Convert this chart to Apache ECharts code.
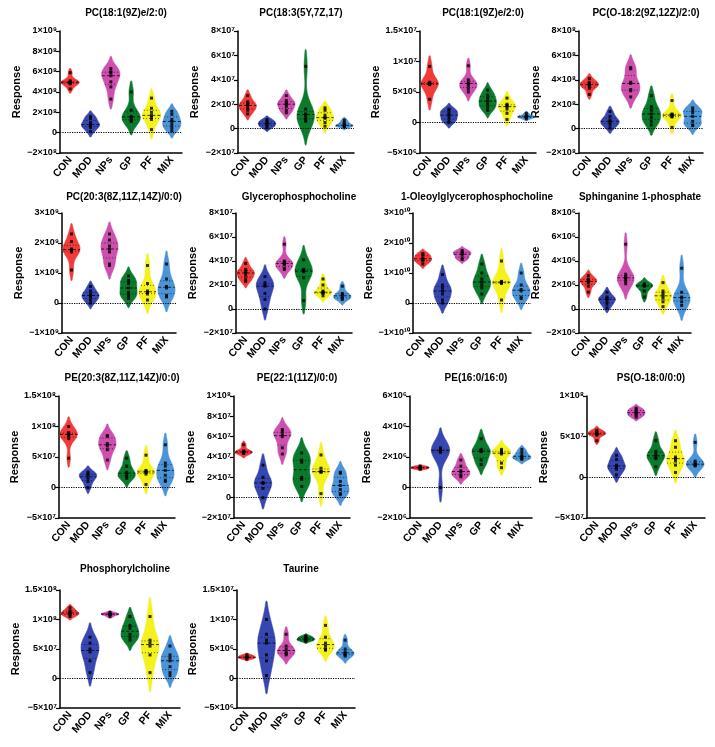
<!DOCTYPE html>
<html>
<head>
<meta charset="utf-8">
<script src="https://cdn.jsdelivr.net/npm/echarts@6/dist/echarts.min.js"></script>
<style>
html,body{margin:0;padding:0;background:#fff;}
#container{width:715px;height:747px;}
</style>
</head>
<body>
<div id="container"></div>
<script>
var groups = ['CON', 'MOD', 'NPs', 'GP', 'PF', 'MIX'];
var colors = ['#f23a3a', '#3747b2', '#cf4fae', '#0a7a2c', '#f4f11c', '#4b94d8'];

var titles = ['PC(18:1(9Z)e/2:0)', 'PC(18:3(5Y,7Z,17)', 'PC(18:1(9Z)e/2:0)', 'PC(O-18:2(9Z,12Z)/2:0)',
    'PC(20:3(8Z,11Z,14Z)/0:0)', 'Glycerophosphocholine', '1-Oleoylglycerophosphocholine', 'Sphinganine 1-phosphate',
    'PE(20:3(8Z,11Z,14Z)/0:0)', 'PE(22:1(11Z)/0:0)', 'PE(16:0/16:0)', 'PS(O-18:0/0:0)',
    'Phosphorylcholine', 'Taurine'];

// y axis ranges (min, max, step) per panel
var yMin  = [-2e8, -2e7, -5e6, -2e8, -1e9, -2e7, -1e10, -2e6, -5e7, -2e7, -2e6, -5e7, -5e7, -5e6];
var yMax  = [1e9, 8e7, 1.5e7, 8e8, 3e9, 8e7, 3e10, 8e6, 1.5e8, 1e8, 6e6, 1e8, 1.5e8, 1.5e7];
var yStep = [2e8, 2e7, 5e6, 2e8, 1e9, 2e7, 1e10, 2e6, 5e7, 2e7, 2e6, 5e7, 5e7, 5e6];

// values per group: CON, MOD, NPs, GP, PF, MIX
var pc181e = [
    [5.9e8, 5.1e8, 5.0e8, 4.95e8, 4.9e8, 4.8e8, 4.3e8],
    [1.6e8, 1.4e8, 1.0e8, 0.8e8, 0.7e8, 0.5e8, 0.1e8],
    [6.3e8, 6.0e8, 5.9e8, 5.6e8, 5.0e8, 4.5e8, 3.3e8],
    [4.0e8, 2.2e8, 1.6e8, 1.5e8, 1.2e8, 1.1e8],
    [3.4e8, 2.4e8, 2.0e8, 1.7e8, 1.5e8, 1.3e8, 0.3e8],
    [2.1e8, 1.8e8, 1.3e8, 1.1e8, 0.8e8, 0.5e8, 0.2e8]
];
var pc183 = [
    [2.7e7, 2.2e7, 2.0e7, 1.9e7, 1.7e7, 1.5e7, 1.2e7],
    [0.75e7, 0.6e7, 0.45e7, 0.35e7, 0.2e7, 0.05e7],
    [2.7e7, 2.3e7, 2.1e7, 2.0e7, 1.8e7, 1.5e7, 1.3e7],
    [5.1e7, 1.6e7, 1.2e7, 1.15e7, 0.9e7, 0.7e7, 0.6e7],
    [1.7e7, 1.5e7, 1.1e7, 0.9e7, 0.85e7, 0.5e7, 0.2e7],
    [0.7e7, 0.5e7, 0.3e7, 0.25e7, 0.2e7, 0.15e7]
];
var pc181e2 = [
    [9.2e6, 6.6e6, 6.4e6, 6.3e6, 6.2e6, 3.8e6],
    [2.2e6, 2.0e6, 1.5e6, 1.2e6, 0.8e6, 0.3e6, 0],
    [9.3e6, 7.0e6, 6.5e6, 6.4e6, 6.0e6, 5.5e6, 5.0e6],
    [5.3e6, 4.5e6, 4.0e6, 3.5e6, 3.0e6, 2.5e6, 2.0e6],
    [4.0e6, 3.0e6, 2.8e6, 2.6e6, 2.2e6, 1.5e6, 0.5e6],
    [1.5e6, 1.1e6, 1.0e6, 0.9e6, 0.8e6, 0.6e6]
];
var pco182 = [
    [4.1e8, 3.8e8, 3.7e8, 3.6e8, 3.5e8, 3.3e8, 2.8e8],
    [1.4e8, 1.0e8, 0.7e8, 0.6e8, 0.5e8, 0.3e8, 0.05e8],
    [5.0e8, 4.9e8, 3.8e8, 3.7e8, 3.2e8, 3.1e8, 2.6e8],
    [2.7e8, 1.8e8, 1.5e8, 1.2e8, 0.9e8, 0.6e8, 0.3e8],
    [2.3e8, 1.2e8, 1.15e8, 1.1e8, 1.0e8, 0.95e8, 0.1e8],
    [1.7e8, 1.5e8, 1.3e8, 1.0e8, 0.6e8, 0.3e8, 0.25e8]
];
var pc203 = [
    [2.3e9, 2.05e9, 1.8e9, 1.78e9, 1.75e9, 1.7e9, 1.1e9],
    [0.55e9, 0.4e9, 0.3e9, 0.25e9, 0.2e9, 0.1e9, 0],
    [2.3e9, 2.1e9, 1.9e9, 1.8e9, 1.7e9, 1.3e9, 1.25e9],
    [0.9e9, 0.75e9, 0.65e9, 0.5e9, 0.35e9, 0.25e9, 0.15e9],
    [1.25e9, 0.65e9, 0.4e9, 0.35e9, 0.3e9, 0.1e9],
    [1.3e9, 0.8e9, 0.55e9, 0.5e9, 0.25e9, 0.2e9]
];
var gpc = [
    [3.8e7, 3.3e7, 3.1e7, 3.0e7, 2.8e7, 2.5e7, 2.3e7],
    [2.7e7, 2.2e7, 2.0e7, 1.9e7, 1.3e7, 0.8e7, 0],
    [5.4e7, 4.0e7, 3.9e7, 3.8e7, 3.7e7, 3.4e7, 3.3e7],
    [4.1e7, 3.3e7, 3.2e7, 3.1e7, 2.6e7, 0.7e7],
    [2.5e7, 2.0e7, 1.5e7, 1.4e7, 1.35e7, 1.3e7, 1.1e7],
    [1.9e7, 1.3e7, 1.2e7, 1.0e7, 0.9e7, 0.8e7]
];
var oleoyl = [
    [1.65e10, 1.6e10, 1.5e10, 1.45e10, 1.4e10, 1.3e10],
    [0.95e10, 0.6e10, 0.5e10, 0.4e10, 0.3e10, 0.1e10, 0],
    [1.75e10, 1.7e10, 1.65e10, 1.6e10, 1.5e10, 1.45e10],
    [1.3e10, 1.0e10, 0.8e10, 0.7e10, 0.6e10, 0.5e10, 0.3e10],
    [1.4e10, 0.72e10, 0.7e10, 0.68e10, 0.65e10, 0.1e10],
    [1.0e10, 0.6e10, 0.45e10, 0.4e10, 0.2e10, 0.15e10]
];
var sphinganine = [
    [2.8e6, 2.5e6, 2.4e6, 2.3e6, 2.2e6, 1.9e6, 1.4e6],
    [1.4e6, 1.0e6, 0.9e6, 0.8e6, 0.6e6, 0.4e6, 0.1e6],
    [5.4e6, 2.9e6, 2.7e6, 2.6e6, 2.5e6, 2.3e6, 2.1e6],
    [2.1e6, 2.0e6, 1.95e6, 1.9e6, 1.5e6, 1.0e6],
    [2.2e6, 1.5e6, 1.3e6, 1.1e6, 0.9e6, 0.6e6, 0.2e6],
    [3.4e6, 1.4e6, 1.0e6, 0.9e6, 0.6e6, 0.3e6]
];
var pe203 = [
    [1.0e8, 0.9e8, 0.88e8, 0.87e8, 0.85e8, 0.8e8, 0.48e8],
    [0.25e8, 0.22e8, 0.2e8, 0.15e8, 0.1e8, 0],
    [0.85e8, 0.84e8, 0.72e8, 0.68e8, 0.62e8, 0.45e8],
    [0.48e8, 0.35e8, 0.25e8, 0.22e8, 0.18e8, 0.15e8],
    [0.53e8, 0.28e8, 0.26e8, 0.25e8, 0.22e8, 0.05e8],
    [0.7e8, 0.4e8, 0.35e8, 0.28e8, 0.2e8, 0.12e8, 0.1e8]
];
var pe221 = [
    [5.2e7, 4.6e7, 4.5e7, 4.4e7, 4.35e7],
    [3.2e7, 2.0e7, 1.5e7, 1.4e7, 0.9e7, 0],
    [6.7e7, 6.5e7, 6.2e7, 6.0e7, 4.9e7, 4.3e7],
    [4.4e7, 3.7e7, 3.5e7, 2.0e7, 1.8e7, 1.1e7],
    [4.2e7, 2.9e7, 2.6e7, 2.55e7, 2.5e7, 0.4e7],
    [2.5e7, 2.4e7, 1.6e7, 1.2e7, 0.8e7, 0.4e7, 0.3e7]
];
var pe160 = [
    [1.4e6, 1.35e6, 1.3e6, 1.25e6, 1.2e6],
    [2.6e6, 2.5e6, 2.45e6, 2.4e6, 2.3e6, 0],
    [1.8e6, 1.4e6, 1.1e6, 1.0e6, 0.8e6, 0.7e6],
    [3.2e6, 2.5e6, 2.4e6, 2.35e6, 1.8e6, 1.5e6],
    [2.5e6, 2.4e6, 2.3e6, 2.2e6, 1.6e6, 1.3e6],
    [2.5e6, 2.3e6, 2.1e6, 2.0e6, 1.9e6, 1.85e6]
];
var pso180 = [
    [5.8e7, 5.6e7, 5.4e7, 5.3e7, 5.2e7, 4.5e7],
    [2.7e7, 2.2e7, 1.5e7, 1.3e7, 1.0e7, 0.3e7],
    [8.5e7, 8.3e7, 8.0e7, 7.9e7, 7.6e7, 7.4e7],
    [4.5e7, 3.2e7, 2.8e7, 2.5e7, 2.3e7, 1.3e7],
    [4.5e7, 3.7e7, 2.5e7, 2.3e7, 2.0e7, 1.5e7, 0.6e7],
    [4.3e7, 2.0e7, 1.7e7, 1.55e7, 1.5e7, 1.4e7]
];
var phosphorylcholine = [
    [1.2e8, 1.15e8, 1.12e8, 1.1e8, 1.08e8, 1.05e8],
    [0.7e8, 0.6e8, 0.5e8, 0.45e8, 0.3e8, 0.1e8],
    [1.12e8, 1.1e8, 1.09e8, 1.08e8, 1.05e8],
    [1.05e8, 0.9e8, 0.85e8, 0.75e8, 0.7e8, 0.65e8],
    [1.05e8, 0.65e8, 0.6e8, 0.55e8, 0.4e8, 0.1e8],
    [0.55e8, 0.4e8, 0.35e8, 0.3e8, 0.2e8, 0.1e8, 0.05e8]
];
var taurine = [
    [4.0e6, 3.8e6, 3.6e6, 3.5e6, 3.3e6],
    [1.0e7, 0.75e7, 0.65e7, 0.6e7, 0.4e7, 0.3e7, 0.05e7],
    [7.5e6, 5.5e6, 5.0e6, 4.5e6, 4.2e6, 4.0e6],
    [7.2e6, 7.0e6, 6.8e6, 6.6e6, 6.5e6, 6.3e6],
    [9.0e6, 7.0e6, 6.0e6, 5.5e6, 5.0e6, 4.8e6],
    [6.5e6, 5.0e6, 4.5e6, 4.2e6, 4.0e6, 3.8e6]
];

var panelData = [pc181e, pc183, pc181e2, pco182, pc203, gpc, oleoyl, sphinganine,
    pe203, pe221, pe160, pso180, phosphorylcholine, taurine];

// grid boxes: left, top, width, height
var boxes = [
    [60, 31, 122, 122], [238, 31, 116, 122], [420, 31, 116, 122], [579, 31, 124, 122],
    [62, 213, 114, 120], [236, 213, 116, 120], [413, 213, 118, 120], [579, 213, 112, 120],
    [59, 396, 116, 122], [234, 396, 116, 122], [410, 396, 122, 122], [587, 396, 118, 122],
    [60, 590, 120, 118], [237, 590, 118, 118]
];
var titleTops = [3, 3, 3, 3, 187, 187, 187, 187, 368, 368, 368, 368, 559, 559];

var FONT = 'Liberation Sans, Arial, Helvetica, sans-serif';
var SUP = {'0': '⁰', '1': '¹', '2': '²', '3': '³', '4': '⁴', '5': '⁵', '6': '⁶', '7': '⁷', '8': '⁸', '9': '⁹'};

function sci(v) {
    if (Math.abs(v) < 1e-9) return '0';
    var e = Math.floor(Math.log10(Math.abs(v)) + 1e-9);
    var m = Math.round(v / Math.pow(10, e) * 100) / 100;
    var exp = String(e).split('').map(function (c) { return SUP[c]; }).join('');
    return (m < 0 ? '−' : '') + Math.abs(m) + '×10' + exp;
}

function quantile(sorted, q) {
    var pos = (sorted.length - 1) * q, lo = Math.floor(pos), hi = Math.ceil(pos);
    return sorted[lo] + (sorted[hi] - sorted[lo]) * (pos - lo);
}

// kernel density shape of one group
function violinShape(vals) {
    var s = vals.slice().sort(function (a, b) { return a - b; });
    var n = s.length;
    var mean = s.reduce(function (a, b) { return a + b; }, 0) / n;
    var sd = Math.sqrt(s.reduce(function (a, b) { return a + (b - mean) * (b - mean); }, 0) / (n - 1));
    var h = 0.9 * sd * Math.pow(n, -0.2);
    var lo = s[0] - 3 * h, hi = s[n - 1] + 3 * h;
    var ys = [], ds = [], steps = 90, max = 0;
    for (var k = 0; k <= steps; k++) {
        var y = lo + (hi - lo) * k / steps, d = 0;
        for (var j = 0; j < n; j++) {
            var z = (y - s[j]) / h;
            d += Math.exp(-0.5 * z * z);
        }
        ys.push(y); ds.push(d);
        if (d > max) max = d;
    }
    ds = ds.map(function (d) { return d / max; });
    var a = 0, b = ds.length - 1;
    while (a < b && ds[a] < 0.06) a++;
    while (b > a && ds[b] < 0.06) b--;
    ys = ys.slice(a, b + 1); ds = ds.slice(a, b + 1);
    ds[0] = 0; ds[ds.length - 1] = 0;
    return {ys: ys, ds: ds, q1: quantile(s, 0.25), med: quantile(s, 0.5), q3: quantile(s, 0.75)};
}

function widthAt(shape, v) {
    for (var k = 1; k < shape.ys.length; k++) {
        if (shape.ys[k] >= v) {
            var t = (v - shape.ys[k - 1]) / (shape.ys[k] - shape.ys[k - 1]);
            return shape.ds[k - 1] + (shape.ds[k] - shape.ds[k - 1]) * t;
        }
    }
    return 0;
}

function makeRender(shapes) {
    return function (params, api) {
        var gi = api.value(0);
        var sh = shapes[gi];
        var cx = api.coord([gi, 0])[0];
        var hw = api.size([1, 0])[0] * 0.45;
        var right = [], left = [];
        for (var k = 0; k < sh.ys.length; k++) {
            var py = api.coord([gi, sh.ys[k]])[1];
            right.push([cx + sh.ds[k] * hw, py]);
            left.unshift([cx - sh.ds[k] * hw, py]);
        }
        var children = [{
            type: 'polygon',
            shape: {points: right.concat(left), smooth: 0.2},
            style: {fill: colors[gi], stroke: colors[gi], lineWidth: 0.6}
        }];
        [[sh.q1, [1, 2], 0.8], [sh.med, [3, 2], 1], [sh.q3, [1, 2], 0.8]].forEach(function (q) {
            var w = widthAt(sh, q[0]) * hw;
            var py = api.coord([gi, q[0]])[1];
            children.push({
                type: 'line',
                shape: {x1: cx - w, y1: py, x2: cx + w, y2: py},
                style: {stroke: 'rgba(0,0,0,0.75)', lineWidth: q[2], lineDash: q[1]}
            });
        });
        return {type: 'group', children: children};
    };
}

var grids = [], xAxes = [], yAxes = [], series = [], titleOpts = [];
panelData.forEach(function (data, i) {
    var b = boxes[i];
    grids.push({left: b[0], top: b[1], width: b[2], height: b[3]});
    titleOpts.push({
        text: titles[i],
        left: b[0] + b[2] / 2,
        top: titleTops[i],
        textAlign: 'center',
        textStyle: {fontSize: 10, fontWeight: 'bold', color: '#000', fontFamily: FONT}
    });
    xAxes.push({
        type: 'category', gridIndex: i, data: groups,
        axisLine: {onZero: false, lineStyle: {color: '#000', width: 1.5}},
        axisTick: {alignWithLabel: true, length: 4, lineStyle: {color: '#000', width: 1.2}},
        axisLabel: {rotate: 50, fontSize: 10.5, fontWeight: 'bold', color: '#000', fontFamily: FONT, margin: 5, interval: 0}
    });
    yAxes.push({
        type: 'value', gridIndex: i, min: yMin[i], max: yMax[i], interval: yStep[i],
        name: 'Response', nameLocation: 'middle', nameGap: 38,
        nameTextStyle: {fontSize: 11, fontWeight: 'bold', color: '#000', fontFamily: FONT},
        axisLine: {show: true, lineStyle: {color: '#000', width: 1.5}},
        axisTick: {show: true, length: 4, lineStyle: {color: '#000', width: 1.2}},
        splitLine: {show: false},
        axisLabel: {fontSize: 9, fontWeight: 'bold', color: '#000', fontFamily: FONT, margin: 3, formatter: sci}
    });
    var shapes = data.map(violinShape);
    series.push({
        type: 'line', xAxisIndex: i, yAxisIndex: i, data: [], z: 1, silent: true,
        markLine: {
            silent: true, symbol: 'none', label: {show: false},
            lineStyle: {color: '#000', type: 'dotted', width: 1.2},
            data: [{yAxis: 0}]
        }
    });
    series.push({
        type: 'custom', xAxisIndex: i, yAxisIndex: i, z: 2, silent: true,
        renderItem: makeRender(shapes),
        data: groups.map(function (g, gi) { return [gi]; })
    });
    var pts = [];
    data.forEach(function (vals, gi) {
        vals.forEach(function (v) { pts.push([gi, v]); });
    });
    series.push({
        type: 'scatter', xAxisIndex: i, yAxisIndex: i, z: 3, silent: true,
        symbol: 'rect', symbolSize: 3, itemStyle: {color: '#000'},
        data: pts
    });
});

var myChart = echarts.init(document.getElementById('container'));
myChart.setOption({
    animation: false,
    backgroundColor: '#fff',
    title: titleOpts,
    grid: grids,
    xAxis: xAxes,
    yAxis: yAxes,
    series: series
});
</script>
</body>
</html>
